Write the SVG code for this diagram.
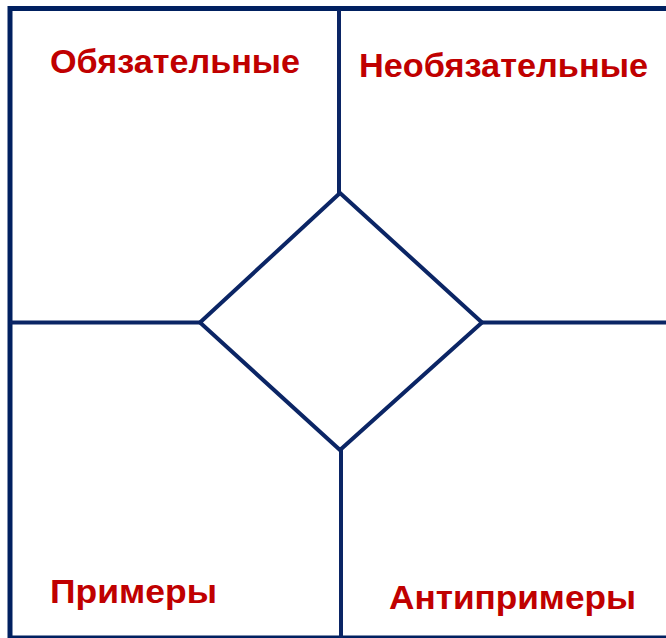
<svg xmlns="http://www.w3.org/2000/svg" width="666" height="638" viewBox="0 0 666 638">
<style>
.ln{stroke:#0b2565;stroke-width:4;fill:none;stroke-linejoin:miter}
.fr{stroke:#002060;stroke-width:5;fill:none}
.lb{font-family:"Liberation Sans",Arial,sans-serif;font-weight:bold;font-size:33px;fill:#c00000}
</style>
<rect width="666" height="638" fill="#ffffff"/>
<g id="frame">
<path class="fr" d="M10 638 V8.5 H666"/>
<line class="fr" x1="10" y1="637" x2="666" y2="637" style="stroke-width:3"/>
</g>
<g id="connectors">
<line class="ln" x1="339" y1="10" x2="339" y2="193"/>
<line class="ln" x1="341" y1="450" x2="341" y2="638"/>
<line class="ln" x1="10" y1="322.5" x2="200" y2="322.5"/>
<line class="ln" x1="482" y1="322.5" x2="666" y2="322.5"/>
</g>
<g id="center">
<polygon class="ln" points="340,193 482,322.5 340,450 200,322.5"/>
</g>
<g id="mandatory">
<text class="lb" x="50" y="73" textLength="250" lengthAdjust="spacingAndGlyphs">Обязательные</text>
</g>
<g id="optional">
<text class="lb" x="359" y="77" textLength="289" lengthAdjust="spacingAndGlyphs">Необязательные</text>
</g>
<g id="examples">
<text class="lb" x="50" y="603" textLength="167" lengthAdjust="spacingAndGlyphs">Примеры</text>
</g>
<g id="counterexamples">
<text class="lb" x="389" y="609" textLength="247" lengthAdjust="spacingAndGlyphs">Антипримеры</text>
</g>
</svg>
